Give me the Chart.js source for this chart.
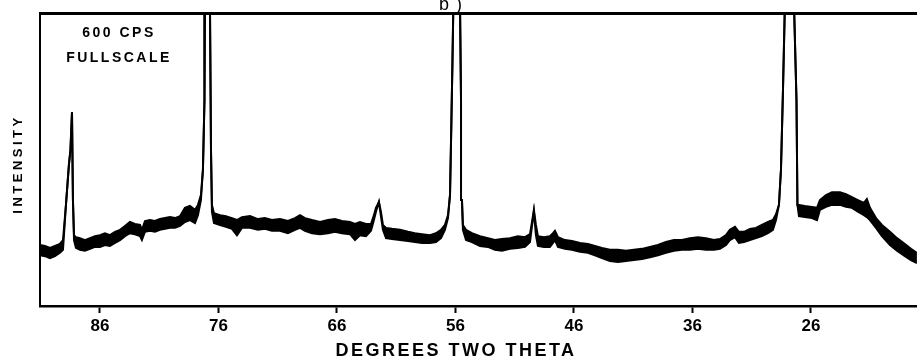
<!DOCTYPE html>
<html>
<head>
<meta charset="utf-8">
<script src="https://cdn.jsdelivr.net/npm/chart.js@4.4.1/dist/chart.umd.min.js"></script>
<style>
  body { margin: 0; background: #fff; }
  canvas { display: block; }
</style>
</head>
<body>
<canvas id="xrd" width="917" height="362"></canvas>
<script>
// degrees two theta (left to right = high to low angle)
const twoTheta = [
  91.06, 90.64, 90.22, 89.80, 89.38, 89.12, 88.87, 88.62, 88.49, 88.36,
  88.28, 88.19, 88.03, 87.69, 87.27, 86.84, 86.42, 86.00, 85.58, 85.16,
  84.73, 84.31, 83.89, 83.47, 83.05, 82.62, 82.46, 82.20, 81.78, 81.36,
  80.94, 80.51, 80.09, 79.67, 79.25, 78.83, 78.41, 77.98, 77.73, 77.48,
  77.31, 77.18, 77.14, 76.93, 76.72, 76.63, 76.55, 76.38, 75.87, 75.37,
  74.86, 74.44, 74.02, 73.34, 72.67, 72.08, 71.49, 70.81, 70.14, 69.54,
  69.12, 68.70, 68.11, 67.43, 66.76, 66.17, 65.58, 64.90, 64.48, 64.06,
  63.55, 63.13, 62.88, 62.71, 62.46, 62.29, 62.12, 61.86, 61.36, 60.68,
  60.01, 59.42, 58.83, 58.15, 57.65, 57.22, 56.89, 56.63, 56.46, 56.34,
  56.25, 56.17, 55.87, 55.62, 55.53, 55.45, 55.37, 55.11, 54.61, 53.93,
  53.26, 52.67, 52.08, 51.40, 50.73, 50.13, 49.71, 49.54, 49.38, 49.21,
  49.04, 48.53, 48.03, 47.77, 47.60, 47.35, 46.76, 46.17, 45.49, 44.82,
  44.23, 43.64, 42.96, 42.29, 41.61, 40.94, 40.26, 39.59, 38.91, 38.24,
  37.56, 36.89, 36.21, 35.54, 34.86, 34.19, 33.68, 33.17, 32.84, 32.41,
  32.08, 31.65, 31.15, 30.64, 30.14, 29.63, 29.21, 28.95, 28.70, 28.53,
  28.36, 28.19, 27.77, 27.44, 27.22, 27.14, 27.01, 26.51, 25.92, 25.49,
  25.24, 24.73, 24.23, 23.55, 23.05, 22.54, 22.04, 21.53, 21.28, 21.02,
  20.51, 20.01, 19.33, 18.74, 18.07, 17.56, 17.06
];

// top edge of the noisy pen trace (cps)
const upperCps = [
  125, 123, 119, 123, 127, 135, 207, 289, 320, 397,
  217, 145, 141, 139, 135, 139, 143, 145, 149, 145,
  152, 156, 164, 172, 168, 166, 156, 174, 176, 174,
  178, 180, 182, 180, 184, 201, 205, 197, 207, 227,
  279, 422, 627, 750, 627, 320, 207, 190, 186, 184,
  180, 176, 182, 184, 178, 180, 176, 178, 174, 180,
  186, 180, 176, 172, 176, 178, 174, 172, 168, 172,
  168, 168, 186, 201, 213, 193, 166, 160, 158, 156,
  152, 149, 147, 145, 149, 156, 166, 186, 227, 381,
  504, 627, 750, 627, 422, 217, 166, 156, 149, 143,
  139, 135, 137, 139, 143, 141, 147, 172, 197, 166,
  143, 141, 143, 149, 154, 141, 135, 133, 129, 127,
  123, 119, 115, 115, 113, 115, 117, 121, 125, 131,
  135, 135, 139, 141, 139, 135, 137, 145, 156, 162,
  152, 152, 158, 160, 166, 172, 176, 188, 207, 279,
  442, 627, 1000, 627, 422, 207, 207, 205, 203, 201,
  217, 227, 233, 233, 229, 223, 217, 211, 219, 201,
  180, 166, 152, 139, 127, 117, 109
];

// bottom edge of the noisy pen trace (cps)
const lowerCps = [
  104, 102, 98, 102, 109, 115, 207, 289, 320, 397,
  217, 135, 119, 115, 113, 117, 121, 121, 125, 123,
  129, 135, 143, 149, 147, 143, 135, 152, 154, 152,
  156, 158, 160, 160, 164, 172, 176, 170, 186, 217,
  279, 422, 627, 750, 627, 320, 193, 170, 166, 162,
  158, 145, 160, 160, 156, 158, 154, 154, 149, 156,
  160, 154, 149, 147, 149, 152, 149, 147, 135, 145,
  143, 154, 176, 193, 213, 184, 156, 139, 137, 135,
  133, 131, 129, 129, 131, 139, 156, 180, 227, 381,
  504, 627, 750, 627, 422, 217, 156, 135, 131, 123,
  121, 115, 113, 117, 119, 121, 131, 164, 193, 145,
  123, 121, 121, 129, 135, 121, 117, 115, 111, 109,
  104, 98, 92, 90, 92, 94, 96, 100, 104, 109,
  113, 115, 115, 117, 115, 115, 117, 125, 135, 141,
  129, 131, 135, 139, 143, 149, 156, 176, 207, 279,
  442, 627, 1000, 627, 422, 207, 184, 182, 180, 176,
  197, 203, 207, 207, 203, 201, 193, 186, 182, 176,
  160, 143, 125, 113, 102, 94, 88
];

const tickValues = [86, 76, 66, 56, 46, 36, 26];
const tickLabels = ['86', '76', '66', '56', '46', '36', '26'];
const fullScale = 600;

// chart.js wants x ascending, the axis itself is reversed
const toPoints = (ys) => twoTheta.map((t, i) => ({ x: t, y: ys[i] })).reverse();

// labels that sit outside the axes
const annotations = {
  id: 'annotations',
  afterDraw(chart) {
    const ctx = chart.ctx;
    ctx.save();
    ctx.fillStyle = '#000';

    ctx.letterSpacing = '2.5px';
    ctx.font = 'bold 14px "Liberation Sans", Arial, sans-serif';
    ctx.textAlign = 'center';
    ctx.textBaseline = 'middle';
    ctx.fillText('600 CPS', 119, 33);
    ctx.letterSpacing = '2.5px';
    ctx.fillText('FULLSCALE', 119, 58);

    ctx.letterSpacing = '2.5px';
    ctx.font = 'bold 18px "Liberation Sans", Arial, sans-serif';
    ctx.fillText('DEGREES TWO THETA', 456, 351);

    ctx.letterSpacing = '3.5px';
    ctx.font = 'bold 13px "Liberation Sans", Arial, sans-serif';
    ctx.translate(18, 164);
    ctx.rotate(-Math.PI / 2);
    ctx.fillText('INTENSITY', 0, 0);
    ctx.restore();

    ctx.save();
    ctx.fillStyle = '#000';
    ctx.letterSpacing = '7px';
    ctx.font = '18px "Liberation Sans", Arial, sans-serif';
    ctx.textAlign = 'left';
    ctx.textBaseline = 'alphabetic';
    ctx.fillText('b)', 439, 10);
    ctx.restore();
  },
};

new Chart(document.getElementById('xrd'), {
  type: 'line',
  data: {
    datasets: [
      {
        data: toPoints(lowerCps),
        borderColor: '#000',
        borderWidth: 2,
        pointRadius: 0,
        tension: 0,
        fill: false,
        clip: 0,
      },
      {
        data: toPoints(upperCps),
        borderColor: '#000',
        backgroundColor: '#000',
        borderWidth: 2,
        pointRadius: 0,
        tension: 0,
        fill: 0,
        clip: 0,
      },
    ],
  },
  options: {
    responsive: false,
    animation: false,
    devicePixelRatio: 1,
    layout: { padding: { top: 13, right: 0, left: 0, bottom: 0 } },
    plugins: {
      legend: { display: false },
      tooltip: { enabled: false },
    },
    scales: {
      x: {
        type: 'linear',
        position: 'bottom',
        reverse: true,
        min: 17.05,
        max: 91.06,
        afterBuildTicks: (scale) => {
          scale.ticks = tickValues.map((v) => ({ value: v }));
        },
        afterFit: (scale) => {
          scale.height = 56;
        },
        ticks: {
          color: '#000',
          padding: 3,
          maxRotation: 0,
          autoSkip: false,
          font: { family: '"Liberation Sans", Arial, sans-serif', size: 17, weight: 'bold' },
          callback: (value) => tickLabels[tickValues.indexOf(value)],
        },
        grid: {
          display: true,
          drawOnChartArea: false,
          drawTicks: true,
          tickLength: 7,
          tickWidth: 2,
          color: '#000',
        },
        border: { display: true, color: '#000', width: 2.5 },
      },
      xTop: {
        type: 'linear',
        position: 'top',
        min: 17.05,
        max: 91.06,
        ticks: { display: false },
        grid: { display: false },
        border: { display: true, color: '#000', width: 3 },
        afterFit: (scale) => {
          scale.height = 0;
        },
      },
      y: {
        type: 'linear',
        min: 0,
        max: fullScale,
        ticks: { display: false },
        grid: { display: false },
        border: { display: true, color: '#000', width: 2 },
        afterFit: (scale) => {
          scale.width = 40;
        },
      },
    },
  },
  plugins: [annotations],
});
</script>
</body>
</html>
